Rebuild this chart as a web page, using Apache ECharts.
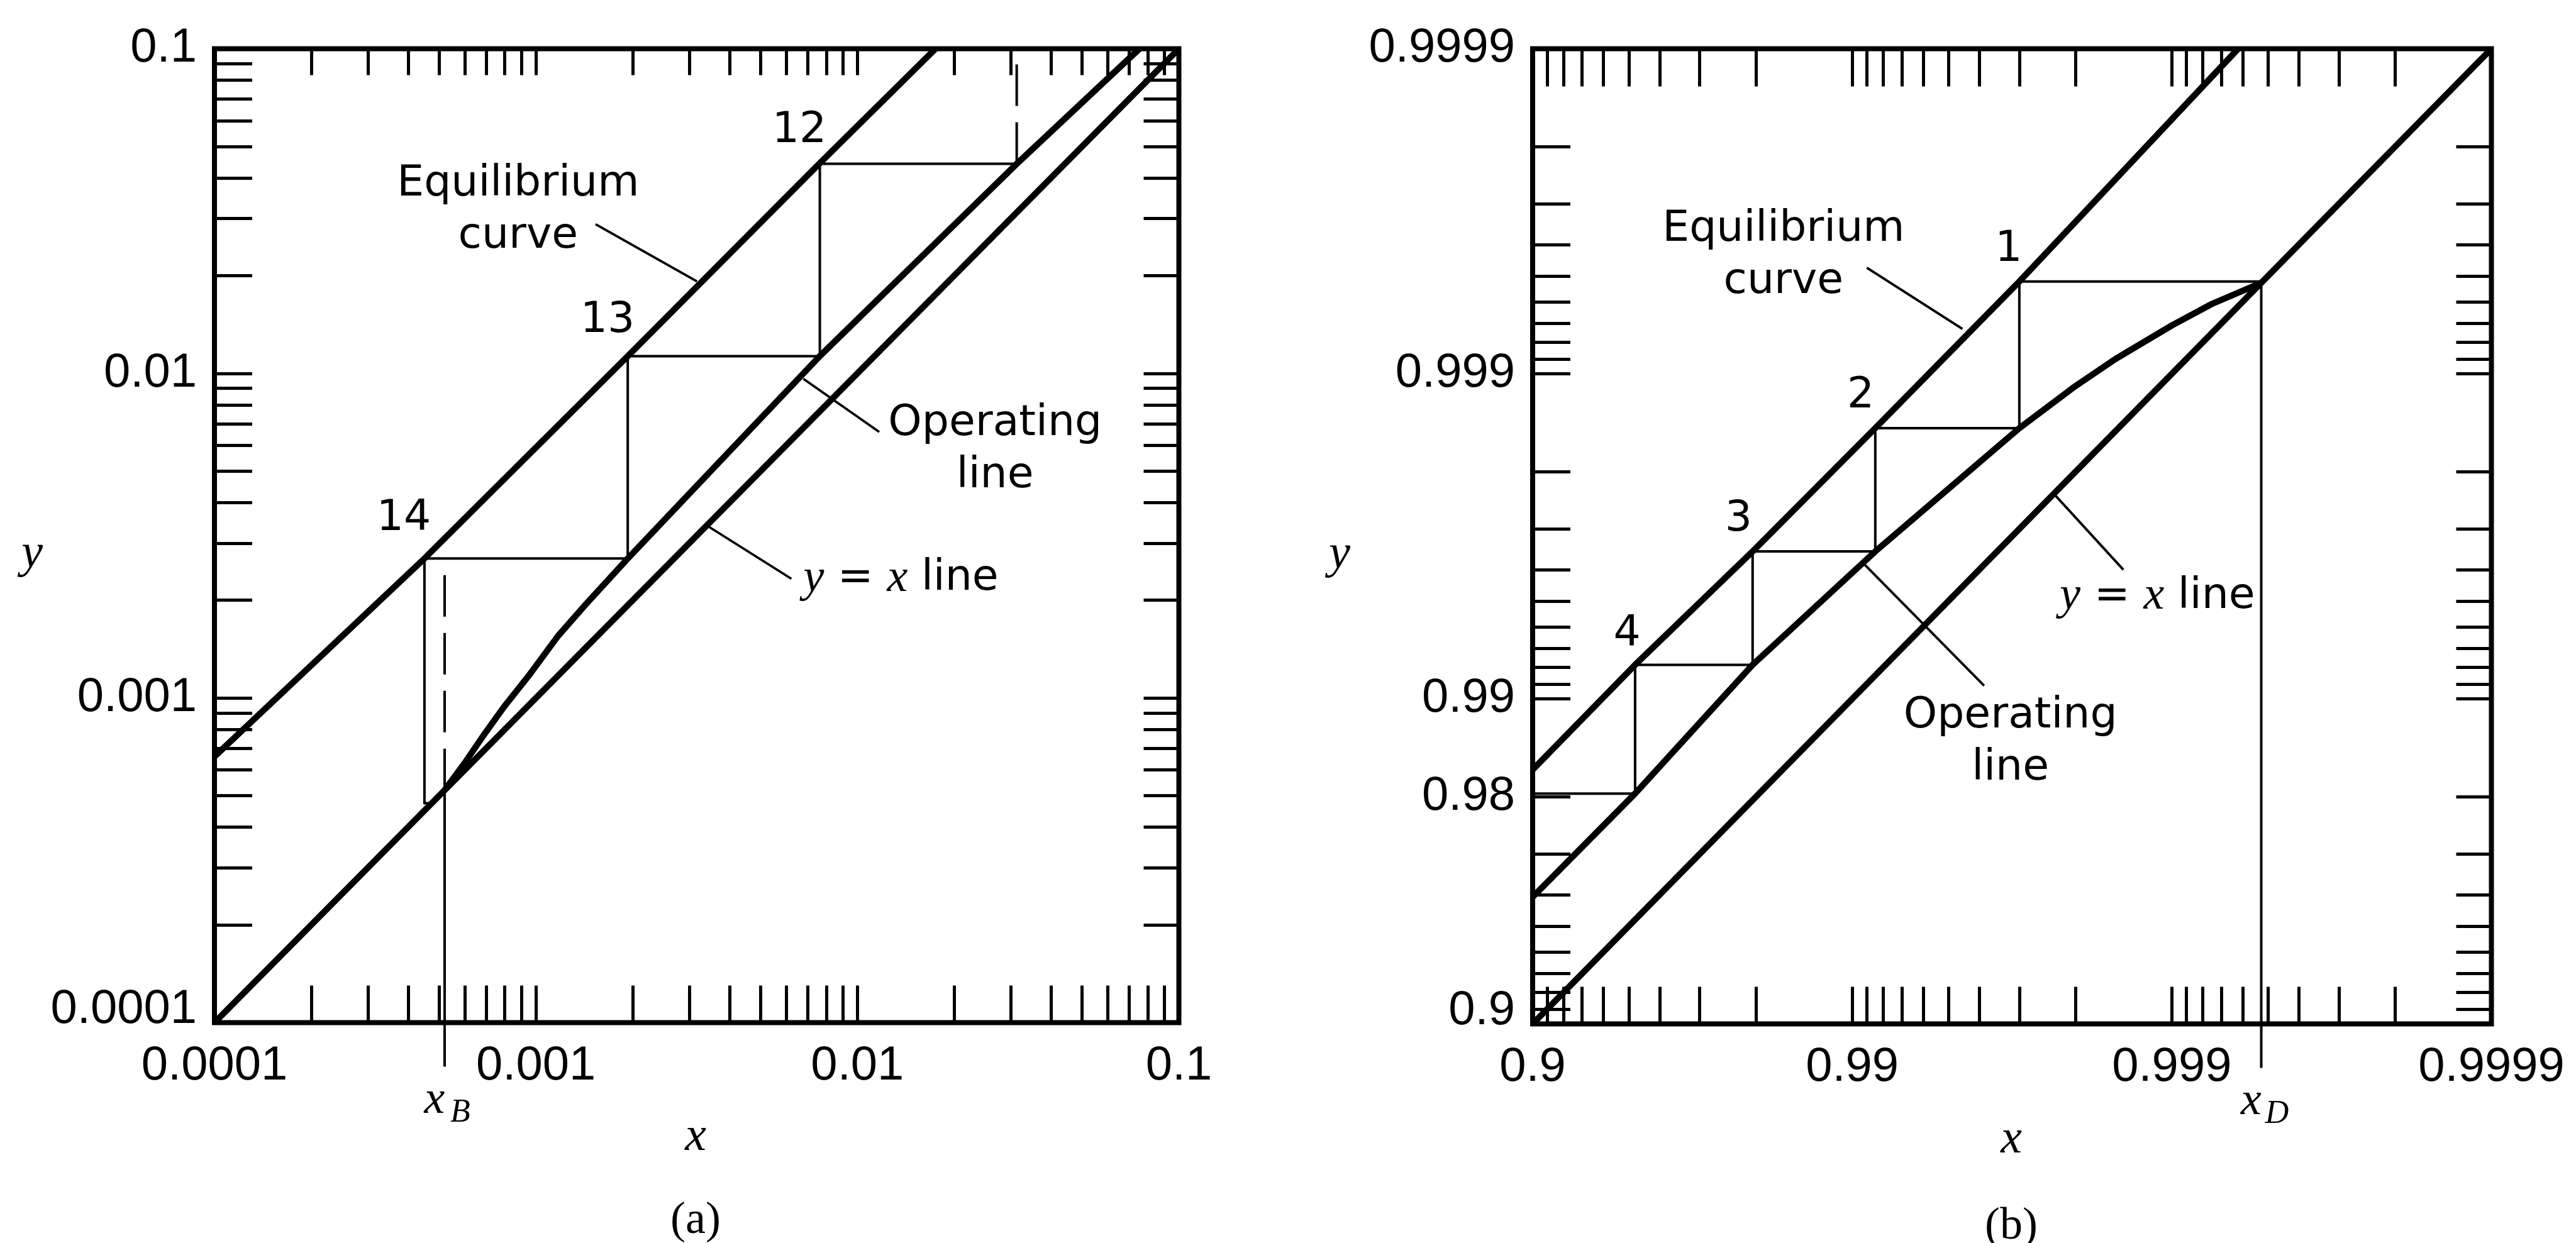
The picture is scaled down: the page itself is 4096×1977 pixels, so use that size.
<!DOCTYPE html>
<html>
<head>
<meta charset="utf-8">
<title>McCabe-Thiele diagram on log scales</title>
<script src="https://cdn.jsdelivr.net/npm/echarts@6/dist/echarts.min.js"></script>
<style>
  html, body { margin: 0; padding: 0; background: #ffffff; }
  #chart { width: 4096px; height: 1977px; }
</style>
</head>
<body>
<div id="chart"></div>
<script>
// ---------------------------------------------------------------------------
// Data
// Panel (a): bottom of the column, mole fractions plotted on log-log axes.
// Panel (b): top of the column, plotted on log axes of (1 - mole fraction).
// ---------------------------------------------------------------------------

// graph-paper tick positions for three decades (also used as distance from 1 in panel b)
const gridTicks = [
  0.0001, 0.0002, 0.0003, 0.0004, 0.0005, 0.0006, 0.0007, 0.0008, 0.0009,
  0.001, 0.002, 0.003, 0.004, 0.005, 0.006, 0.007, 0.008, 0.009,
  0.01, 0.02, 0.03, 0.04, 0.05, 0.06, 0.07, 0.08, 0.09, 0.1
];

// tick labels
const tickValuesA = [0.0001, 0.001, 0.01, 0.1];
const tickTextA = ['0.0001', '0.001', '0.01', '0.1'];
const xTickValuesB = [0.9, 0.99, 0.999, 0.9999];
const xTickTextB = ['0.9', '0.99', '0.999', '0.9999'];
const yTickValuesB = [0.9, 0.98, 0.99, 0.999, 0.9999];
const yTickTextB = ['0.9', '0.98', '0.99', '0.999', '0.9999'];

// panel (a) curves, [x, y]
const diagonalA = [[0.0001, 0.0001], [0.1, 0.1]];
const equilibriumA = [
  [0.0001, 0.00066], [0.00045, 0.00269], [0.00193, 0.0113],
  [0.00764, 0.0444], [0.0175, 0.1]
];
const operatingA = [
  [0.00052, 0.00052], [0.0006, 0.00063], [0.000685, 0.000764],
  [0.000796, 0.00094], [0.000949, 0.00117], [0.00117, 0.00155],
  [0.00144, 0.00196], [0.00193, 0.00269], [0.00764, 0.0113],
  [0.0313, 0.0442], [0.0754, 0.1]
];
// stage steps 12, 13, 14
const stepsA = [
  [0.0313, 0.0442], [0.00764, 0.0442], [0.00764, 0.0113],
  [0.00193, 0.0113], [0.00193, 0.00269], [0.00045, 0.00269],
  [0.00045, 0.000474], [0.000474, 0.000474]
];
const dashedA = [
  [[0.0313, 0.0442], [0.0313, 0.1]],
  [[0.00052, 0.00052], [0.00052, 0.00269]]
];
const xB = 0.00052;

// panel (b) curves, [x, y]
const diagonalB = [[0.9, 0.9], [0.9999, 0.9999]];
const equilibriumB = [
  [0.9, 0.98348], [0.9522, 0.99214], [0.9795, 0.99648],
  [0.99153, 0.99853], [0.997, 0.99948], [0.99938, 0.9999]
];
const operatingB = [
  [0.9, 0.9593], [0.9522, 0.98044], [0.9795, 0.99214],
  [0.99153, 0.99648], [0.997, 0.99853], [0.998, 0.99891],
  [0.9985, 0.9991], [0.999, 0.99929], [0.99925, 0.99939],
  [0.999475, 0.999475]
];
// stage steps 1 to 4
const stepsB = [
  [0.999475, 0.99948], [0.997, 0.99948], [0.997, 0.99853],
  [0.99153, 0.99853], [0.99153, 0.99648], [0.9795, 0.99648],
  [0.9795, 0.99214], [0.9522, 0.99214], [0.9522, 0.98044],
  [0.9, 0.98044]
];
const xD = 0.999475;

// annotation texts and leader lines
const notesA = [
  { text: 'Equilibrium\ncurve', at: [0.00088, 0.0318] },
  { text: 'Operating\nline', at: [0.0268, 0.0058] },
  { text: '{m|y} = {m|x} line', at: [0.00679, 0.00233], align: 'left' },
  { text: '12', at: [0.0066, 0.0559] },
  { text: '13', at: [0.00167, 0.0145] },
  { text: '14', at: [0.000388, 0.00356] }
];
const leadersA = [
  [0.001533, 0.0288, 0.00317, 0.0192],
  [0.00679, 0.00962, 0.01169, 0.0066],
  [0.0034, 0.0034, 0.00623, 0.00233]
];
const notesB = [
  { text: 'Equilibrium\ncurve', at: [0.98359, 0.999566] },
  { text: 'Operating\nline', at: [0.9968, 0.9864] },
  { text: '{m|y} = {m|x} line', at: [0.99776, 0.99515], align: 'left' },
  { text: '1', at: [0.99676, 0.999585] },
  { text: '2', at: [0.99059, 0.998826] },
  { text: '3', at: [0.97732, 0.99719] },
  { text: '4', at: [0.94934, 0.99365] }
];
const leadersB = [
  [0.991, 0.999528, 0.99548, 0.999272],
  [0.99087, 0.99613, 0.996134, 0.99089],
  [0.99766, 0.99766, 0.998582, 0.995993]
];

// ---------------------------------------------------------------------------
// Styling
// ---------------------------------------------------------------------------
const INK = '#000000';
const FONT_TICK = '"Liberation Sans", Arial, sans-serif';
const FONT_NOTE = '"DejaVu Sans", sans-serif';
const FONT_MATH = '"Liberation Serif", "Times New Roman", serif';
const THICK = 10;
const THIN = 4;
const LEADER = 3.8;
const TICK_W = 5;
const FRAME_W = 8;
const DASH = [66, 26];
const DROP = 70;

const identity = v => v;
const fromOne = v => +(1 - v).toPrecision(8);   // panel (b) plots the distance from 1
const near = (a, b) => Math.abs(Math.log10(a) - Math.log10(b)) < 1e-6;

function tickFormatter(values, texts, map, lowest) {
  return function (v) {
    for (let i = 0; i < values.length; i++) {
      if (near(v, map(values[i]))) {
        return values[i] === lowest ? '{low|' + texts[i] + '}' : texts[i];
      }
    }
    return '';
  };
}

const labelStyle = {
  fontFamily: FONT_TICK, fontSize: 76, color: INK
};

function makeAxis(gridIndex, position, opts) {
  const isX = position === 'bottom' || position === 'top';
  const ax = {
    gridIndex, type: 'log', logBase: 10, position,
    min: 0.0001, max: 0.1, inverse: !!opts.inverse,
    axisLine: { show: false },
    splitLine: { show: false },
    minorTick: { show: false },
    minorSplitLine: { show: false },
    axisTick: {
      show: true, inside: true, length: opts.tickLen,
      customValues: gridTicks,
      lineStyle: { color: INK, width: TICK_W }
    },
    axisLabel: { show: false },
    axisPointer: { show: false }
  };
  if (opts.labels) {
    ax.axisLabel = Object.assign({
      show: true,
      customValues: opts.labels.values.map(opts.labels.map),
      formatter: tickFormatter(opts.labels.values, opts.labels.texts, opts.labels.map, opts.labels.lowest),
      margin: isX ? 32 : 28,
      hideOverlap: false,
      showMinLabel: true, showMaxLabel: true,
      rich: { low: Object.assign({ padding: [0, 0, 40, 0] }, labelStyle) }
    }, labelStyle);
  }
  return ax;
}

const xAxis = [
  makeAxis(0, 'bottom', { tickLen: 59, labels: { values: tickValuesA, texts: tickTextA, map: identity } }),
  makeAxis(0, 'top', { tickLen: 42 }),
  makeAxis(1, 'bottom', { tickLen: 59, inverse: true, labels: { values: xTickValuesB, texts: xTickTextB, map: fromOne } }),
  makeAxis(1, 'top', { tickLen: 60, inverse: true })
];
const yAxis = [
  makeAxis(0, 'left', { tickLen: 60, labels: { values: tickValuesA, texts: tickTextA, map: identity, lowest: 0.0001 } }),
  makeAxis(0, 'right', { tickLen: 56 }),
  makeAxis(1, 'left', { tickLen: 60, inverse: true, labels: { values: yTickValuesB, texts: yTickTextB, map: fromOne, lowest: 0.9 } }),
  makeAxis(1, 'right', { tickLen: 56, inverse: true })
];

// ---------------------------------------------------------------------------
// Series builders
// ---------------------------------------------------------------------------
function mapPts(pts, map) { return pts.map(p => [map(p[0]), map(p[1])]); }

function curve(panel, pts, width, dash) {
  return {
    type: 'line', xAxisIndex: panel * 2, yAxisIndex: panel * 2,
    data: pts, symbol: 'none', showSymbol: false, smooth: false,
    lineStyle: { color: INK, width, type: dash || 'solid', cap: 'butt', join: 'round' },
    silent: true, animation: false, clip: true, z: 3
  };
}

function dropLine(panel, xv, sub) {
  return {
    type: 'custom', xAxisIndex: panel * 2, yAxisIndex: panel * 2,
    data: [[xv, xv]], clip: false, silent: true, animation: false, z: 4,
    renderItem(params, api) {
      const p = api.coord([api.value(0), api.value(1)]);
      const cs = params.coordSys;
      const yEnd = cs.y + cs.height + DROP;
      return {
        type: 'group',
        children: [
          { type: 'line', shape: { x1: p[0], y1: p[1], x2: p[0], y2: yEnd },
            style: { stroke: INK, lineWidth: THIN } },
          { type: 'text', x: p[0] - 16, y: yEnd + 54,
            style: { text: 'x', fill: INK, fontFamily: FONT_MATH, fontStyle: 'italic',
                     fontSize: 74, align: 'center', verticalAlign: 'middle' } },
          { type: 'text', x: p[0] + 25, y: yEnd + 74,
            style: { text: sub, fill: INK, fontFamily: FONT_MATH, fontStyle: 'italic',
                     fontSize: 52, align: 'center', verticalAlign: 'middle' } }
        ]
      };
    }
  };
}

function notes(panel, items, map) {
  return {
    type: 'custom', xAxisIndex: panel * 2, yAxisIndex: panel * 2,
    data: items.map(n => [map(n.at[0]), map(n.at[1])]),
    clip: false, silent: true, animation: false, z: 5,
    renderItem(params, api) {
      const n = items[params.dataIndex];
      const p = api.coord([api.value(0), api.value(1)]);
      return {
        type: 'text', x: p[0], y: p[1],
        style: {
          text: n.text, fill: INK, fontFamily: FONT_NOTE, fontSize: 68,
          lineHeight: 83, align: n.align || 'center', verticalAlign: 'middle',
          rich: { m: { fontFamily: FONT_MATH, fontStyle: 'italic', fontSize: 74, fill: INK } }
        }
      };
    }
  };
}

function leaders(panel, segs, map) {
  return {
    type: 'custom', xAxisIndex: panel * 2, yAxisIndex: panel * 2,
    data: segs.map(s => [map(s[0]), map(s[1]), map(s[2]), map(s[3])]),
    dimensions: ['x', 'y', 'x2', 'y2'],
    encode: { x: 0, y: 1 },
    clip: false, silent: true, animation: false, z: 4,
    renderItem(params, api) {
      const a = api.coord([api.value(0), api.value(1)]);
      const b = api.coord([api.value(2), api.value(3)]);
      return { type: 'line', shape: { x1: a[0], y1: a[1], x2: b[0], y2: b[1] },
               style: { stroke: INK, lineWidth: LEADER } };
    }
  };
}

const series = [
  // panel (a)
  curve(0, diagonalA, THICK),
  curve(0, equilibriumA, THICK),
  curve(0, operatingA, THICK),
  curve(0, stepsA, THIN),
  ...dashedA.map(seg => curve(0, seg, THIN, DASH)),
  dropLine(0, xB, 'B'),
  leaders(0, leadersA, identity),
  notes(0, notesA, identity),
  // panel (b)
  curve(1, mapPts(diagonalB, fromOne), THICK),
  curve(1, mapPts(equilibriumB, fromOne), THICK),
  curve(1, mapPts(operatingB, fromOne), THICK),
  curve(1, mapPts(stepsB, fromOne), THIN),
  dropLine(1, fromOne(xD), 'D'),
  leaders(1, leadersB, fromOne),
  notes(1, notesB, fromOne)
];

function caption(text, x, y, italic, size) {
  return {
    type: 'text', x, y, silent: true,
    style: { text, fill: INK, fontFamily: FONT_MATH, fontStyle: italic ? 'italic' : 'normal',
             fontSize: size, align: 'center', verticalAlign: 'middle' }
  };
}

const chart = echarts.init(document.getElementById('chart'), null, { renderer: 'canvas' });
chart.setOption({
  backgroundColor: '#ffffff',
  animation: false,
  grid: [
    { left: 341, top: 77.5, width: 1533.5, height: 1549, show: true,
      borderColor: INK, borderWidth: FRAME_W, backgroundColor: 'transparent',
      containLabel: false, outerBoundsMode: 'none' },
    { left: 2437, top: 77.5, width: 1524.5, height: 1551, show: true,
      borderColor: INK, borderWidth: FRAME_W, backgroundColor: 'transparent',
      containLabel: false, outerBoundsMode: 'none' }
  ],
  xAxis, yAxis, series,
  graphic: [
    caption('y', 51, 882, true, 76),
    caption('x', 1106, 1809, true, 76),
    caption('(a)', 1106, 1942, false, 72),
    caption('y', 2130, 883, true, 76),
    caption('x', 3198, 1813, true, 76),
    caption('(b)', 3198, 1951, false, 72)
  ]
});
</script>
</body>
</html>
